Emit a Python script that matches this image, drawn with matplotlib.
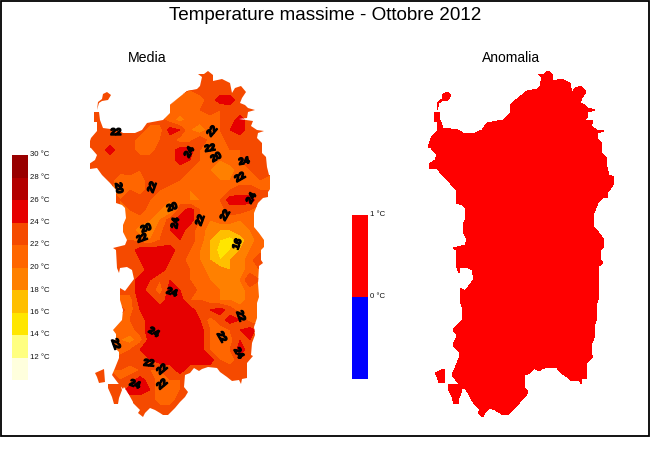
import matplotlib
matplotlib.use("Agg")
import matplotlib.pyplot as plt
import matplotlib.patheffects as pe
import numpy as np
from matplotlib.colors import BoundaryNorm, ListedColormap
from matplotlib.patches import PathPatch, Rectangle
from matplotlib.path import Path

plt.rcParams["font.family"] = ["Liberation Sans", "DejaVu Sans"]

# temperature classes
levels = [10, 12, 14, 16, 18, 20, 22, 24, 26, 28, 30]
colors = ["#ffffdd", "#ffff80", "#ffe600", "#ffbf00", "#ff8000",
          "#ff6600", "#f54a00", "#e60000", "#b30000", "#990000"]
level_labels = [12, 14, 16, 18, 20, 22, 24, 26, 28, 30]

anom_levels = [-1, 0, 1]
anom_colors = ["#0000ff", "#ff0000"]
anom_labels = [0, 1]

# map coordinates of the coast (mainland, Asinara, San Pietro, Sant'Antioco)
coast_x = [198, 204, 208, 213, 213, 222, 230, 232, 235, 241, 246, 242, 240, 245, 248, 255, 248, 247, 239, 253, 251,
           257, 264, 258, 257, 262, 262, 266, 267, 269, 274, 273, 268, 268, 263, 258, 254, 254, 259, 264, 264,
           264, 261, 261, 263, 259, 258, 259, 257, 257, 254, 255, 252, 251, 253, 247, 247, 242, 241, 239, 232, 227,
           220, 217, 208, 202, 199, 194, 190, 185, 184, 188, 185, 180, 175, 168, 163, 160, 155, 150, 145, 143, 138,
           140, 133, 133, 128, 124, 123, 118, 112, 115, 119, 119, 115, 113, 116, 116, 113, 122, 123, 120, 120, 125,
           128, 134, 132, 127, 120, 119, 117, 116, 113, 125, 127, 123, 123, 126, 125, 122, 116, 116, 110, 102, 97,
           90, 89, 95, 97, 91, 88, 91, 97, 97, 94, 94, 99, 100, 103, 118, 123, 135, 142, 147, 163, 170, 170, 177,
           187, 197, 200, 202]
coast_y = [74, 74, 71, 75, 81, 79, 83, 93, 88, 86, 92, 98, 103, 105, 108, 110, 112, 118, 119, 121, 126,
           130, 131, 133, 138, 143, 153, 157, 167, 175, 177, 185, 192, 197, 198, 203, 213, 227, 233, 240, 250,
           247, 250, 260, 263, 266, 283, 297, 303, 318, 327, 335, 343, 355, 356, 363, 378, 379, 384, 380, 381, 377,
           372, 368, 367, 369, 371, 368, 373, 375, 387, 392, 397, 402, 408, 415, 415, 413, 410, 408, 413, 417, 413,
           410, 403, 402, 393, 387, 389, 383, 375, 368, 358, 352, 348, 345, 338, 334, 330, 320, 310, 300, 288, 291,
           287, 279, 270, 267, 268, 273, 268, 250, 248, 245, 240, 232, 225, 218, 208, 205, 203, 190, 183, 175, 168,
           169, 164, 160, 155, 148, 147, 138, 131, 122, 122, 112, 112, 120, 128, 130, 133, 133, 130, 123, 120, 113,
           105, 99, 91, 89, 86, 77]
asinara_x = [97, 99, 102, 108, 111, 107, 103, 102, 98]
asinara_y = [110, 103, 101, 100, 95, 92, 94, 99, 102]
pietro_x = [95, 104, 105, 99, 97]
pietro_y = [373, 369, 382, 383, 377]
antioco_x = [108, 120, 122, 119, 118, 114, 112, 108]
antioco_y = [384, 384, 390, 398, 404, 404, 397, 388]

# mean maximum temperature
field_x = [90, 100, 110, 120, 130, 140, 150, 160, 170, 180, 190, 200, 210, 220, 230, 240, 250, 260, 270]
field_y = [70, 80, 90, 100, 110, 120, 130, 140, 150, 160, 170, 180, 190, 200, 210, 220, 230, 240,
           250, 260, 270, 280, 290, 300, 310, 320, 330, 340, 350, 360, 370, 380, 390, 400, 410, 420]
field = [
    [23, 23, 23, 23, 23, 23, 23, 23, 23, 23, 23, 23, 23, 23, 23, 23, 23, 23, 23],
    [23, 23, 23, 23, 23, 23, 23, 23, 23, 23, 23, 23, 23, 23, 23, 23, 23, 23, 23],
    [23, 23, 23, 23, 23, 23, 23, 23, 23, 23, 22, 23, 23, 23, 23, 23, 23, 23, 23],
    [23, 23, 23, 23, 23, 23, 23, 23, 23, 21, 21, 21, 23, 25, 25, 23, 23, 23, 23],
    [23, 23, 23, 23, 23, 23, 23, 23, 21, 21, 21, 22, 23, 22, 23, 23, 23, 23, 23],
    [23, 23, 23, 23, 23, 23, 23, 23, 21, 19, 21, 21, 21, 22, 23, 25, 23, 23, 23],
    [23, 23, 23, 23, 23, 23, 21, 21, 25, 24, 20, 18, 21, 22, 24, 25, 23, 23, 23],
    [23, 23, 23, 23, 23, 21, 21, 22, 23, 21, 21, 24, 21, 21, 23, 23, 23, 23, 23],
    [23, 23, 25, 23, 23, 21, 21, 23, 23, 25, 25, 22, 21, 21, 22, 22, 23, 24, 23],
    [23, 23, 23, 23, 23, 23, 23, 23, 23, 25, 24, 22, 21, 20, 21, 22, 24, 24, 23],
    [23, 23, 23, 23, 23, 22, 23, 23, 23, 23, 22, 21, 20, 19, 19, 21, 22, 23, 23],
    [23, 23, 23, 20, 21, 21, 23, 23, 23, 22, 21, 21, 21, 20, 20, 21, 21, 22, 21],
    [23, 23, 23, 19, 22, 21, 23, 22, 21, 21, 20, 21, 21, 21, 22, 23, 23, 22, 22],
    [23, 23, 23, 22, 23, 23, 22, 21, 20, 21, 20, 20, 21, 22, 25, 25, 25, 23, 23],
    [23, 23, 23, 22, 22, 23, 21, 20, 18, 23, 25, 22, 21, 21, 23, 23, 22, 21, 21],
    [23, 23, 23, 21, 21, 21, 20, 20, 23, 25, 25, 22, 20, 21, 21, 20, 21, 21, 21],
    [23, 23, 23, 21, 21, 19, 19, 21, 24, 25, 23, 21, 19, 18, 18, 19, 20, 21, 21],
    [23, 23, 23, 22, 22, 21, 20, 22, 23, 24, 23, 21, 18, 16, 15, 17, 19, 21, 21],
    [23, 23, 23, 23, 23, 25, 25, 25, 25, 23, 22, 20, 18, 15, 16, 18, 20, 21, 21],
    [23, 23, 23, 23, 23, 24, 25, 25, 24, 23, 21, 20, 18, 16, 18, 19, 21, 24, 23],
    [23, 23, 23, 23, 23, 23, 25, 25, 23, 23, 22, 21, 19, 19, 18, 19, 21, 22, 22],
    [23, 23, 23, 23, 23, 25, 24, 22, 24, 24, 22, 21, 20, 18, 19, 20, 24, 22, 22],
    [23, 23, 23, 23, 23, 25, 23, 21, 25, 24, 24, 21, 21, 20, 20, 19, 21, 22, 22],
    [23, 23, 23, 21, 21, 25, 25, 23, 25, 25, 22, 22, 21, 20, 20, 19, 21, 22, 22],
    [23, 23, 23, 23, 21, 24, 25, 25, 25, 25, 25, 23, 24, 25, 23, 21, 22, 22, 22],
    [23, 23, 23, 21, 22, 23, 25, 25, 25, 25, 25, 24, 21, 23, 25, 24, 21, 21, 21],
    [21, 21, 21, 21, 21, 23, 25, 25, 25, 25, 25, 25, 22, 21, 22, 24, 25, 23, 23],
    [20, 20, 20, 20, 19, 21, 25, 25, 25, 25, 25, 25, 22, 20, 21, 24, 24, 23, 23],
    [21, 21, 21, 21, 22, 24, 25, 25, 25, 25, 25, 25, 22, 21, 22, 25, 23, 23, 23],
    [23, 23, 23, 23, 23, 23, 24, 25, 25, 25, 25, 25, 25, 22, 21, 23, 23, 23, 23],
    [22, 22, 22, 22, 21, 22, 22, 22, 23, 25, 23, 23, 23, 23, 23, 23, 23, 23, 23],
    [23, 23, 23, 22, 23, 25, 23, 21, 22, 22, 23, 23, 23, 23, 23, 23, 23, 23, 23],
    [23, 23, 23, 23, 25, 25, 24, 20, 20, 22, 23, 23, 23, 23, 23, 23, 23, 23, 23],
    [23, 23, 23, 23, 23, 23, 23, 21, 21, 23, 23, 23, 23, 23, 23, 23, 23, 23, 23],
    [23, 23, 23, 23, 23, 23, 23, 23, 23, 23, 23, 23, 23, 23, 23, 23, 23, 23, 23],
    [23, 23, 23, 23, 23, 23, 23, 23, 23, 23, 23, 23, 23, 23, 23, 23, 23, 23, 23],
]

# contour labels on the mean map
label_text = ["22", "20", "22", "20", "20", "22", "24", "22", "22", "24", "22", "22", "20", "24", "22", "24", "16",
              "24", "24", "22", "22", "22", "22", "24", "22", "22", "24"]
label_x = [116, 119, 152, 172, 146, 142, 175, 200, 225, 189, 212, 210, 216, 244, 240, 251, 237,
           172, 154, 116, 149, 162, 162, 135, 241, 222, 239]
label_y = [132, 188, 187, 207, 228, 238, 223, 220, 215, 152, 131, 148, 157, 161, 177, 198, 244,
           292, 332, 344, 363, 369, 384, 384, 316, 337, 353]
label_rot = [0, -80, 70, 20, 20, 20, 80, 70, 60, 60, 50, 10, 30, 10, 30, 60, 70,
             -20, -30, -70, -5, 40, 40, -20, -70, -60, -60]

OFFSET = 340


def island_path(dx=0):
    parts = []
    codes = []
    for xs, ys in [(coast_x, coast_y), (asinara_x, asinara_y), (pietro_x, pietro_y), (antioco_x, antioco_y)]:
        pts = np.column_stack([np.array(xs) + dx, ys])
        parts.append(np.vstack([pts, pts[0]]))
        codes += [Path.MOVETO] + [Path.LINETO] * (len(xs) - 1) + [Path.CLOSEPOLY]
    return Path(np.vstack(parts), codes)


def scale_bar(fig, box, lv, cols, labels, size):
    # box is left, top, right, bottom in pixels
    left, top, right, bottom = box
    ax = fig.add_axes([left / 650, 1 - bottom / 450, (right - left) / 650, (bottom - top) / 450])
    ax.bar(np.zeros(len(cols)), np.diff(lv), bottom=lv[:-1], width=1, color=cols, linewidth=0)
    ax.set_xlim(-0.5, 0.5)
    ax.set_ylim(lv[0], lv[-1])
    ax.axis("off")
    for v in labels:
        ax.text(0.62, v, f"{v} °C", fontsize=size, va="center", ha="left", color="#111111", clip_on=False)


fig = plt.figure(figsize=(6.5, 4.5), dpi=100)
ax = fig.add_axes([0, 0, 1, 1])
ax.set_xlim(0, 650)
ax.set_ylim(450, 0)
ax.axis("off")

cmap = ListedColormap(colors)
norm = BoundaryNorm(levels, cmap.N)
cs = ax.contourf(field_x, field_y, field, levels=levels, cmap=cmap, norm=norm, antialiased=False)
cs.set_clip_path(island_path(), ax.transData)

for t, x, y, r in zip(label_text, label_x, label_y, label_rot):
    ax.text(x, y, t, fontsize=7, fontweight="bold", rotation=r, ha="center", va="center", color="black",
            path_effects=[pe.withStroke(linewidth=1, foreground="black")])

# anomaly map, the whole island is in the 0-1 class
ax.add_patch(PathPatch(island_path(OFFSET), facecolor=anom_colors[1], edgecolor="none", antialiased=False))

ax.add_patch(Rectangle((0.5, 0.5), 648, 435.5, fill=False, edgecolor="black", linewidth=1.3))
ax.text(325, 15, "Temperature massime - Ottobre 2012", fontsize=13.6, ha="center", va="center")
ax.text(147, 58, "Media", fontsize=10.2, ha="center", va="center", fontweight="light")
ax.text(511, 58, "Anomalia", fontsize=10, ha="center", va="center")

scale_bar(fig, (12, 155, 28, 380), levels, colors, level_labels, 5.6)
scale_bar(fig, (352, 215, 368, 379), anom_levels, anom_colors, anom_labels, 5.6)

fig.savefig("out.png", dpi=100)
